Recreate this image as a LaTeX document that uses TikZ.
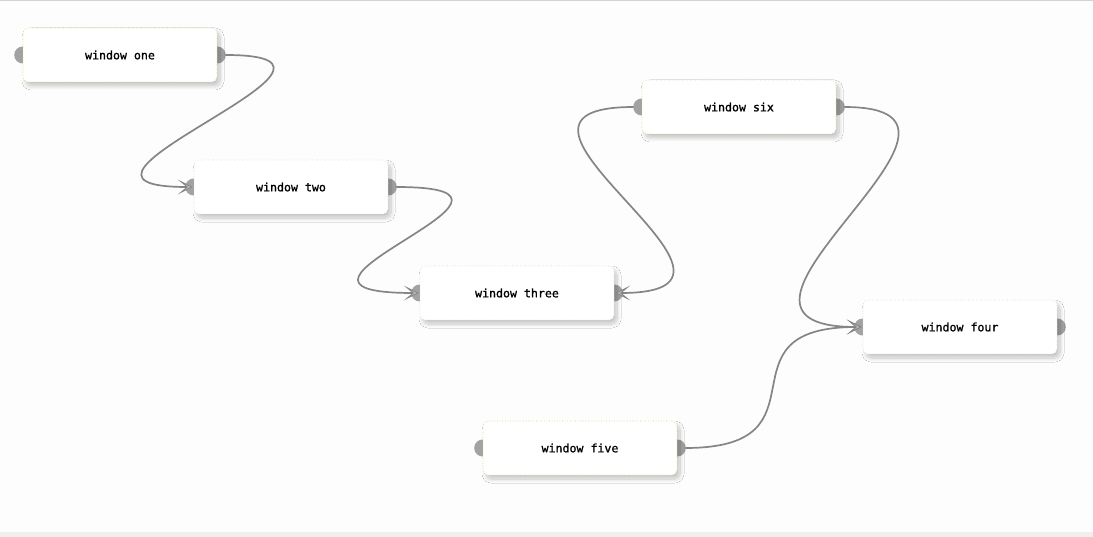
\documentclass[tikz,border=0pt]{standalone}
\usepackage{fontspec}
\newfontfamily\monof[FakeBold=1.2]{DejaVu Sans Mono}
\usetikzlibrary{arrows.meta,shadows.blur,backgrounds}
\definecolor{bgc}{HTML}{FDFDFD}
\definecolor{linec}{HTML}{858585}
\definecolor{dotc}{HTML}{A2A2A2}
\definecolor{bordA}{HTML}{CCD660}
\definecolor{bordB}{HTML}{D8D8C0}
\definecolor{topc}{HTML}{D2D2D2}
\definecolor{botc}{HTML}{EFEFEF}
\tikzset{
  win/.style={rectangle, rounded corners=5pt, minimum width=194pt, minimum height=54pt,
    inner sep=0pt, fill=white, draw=bordA, dotted, line width=0.6pt,
    blur shadow={shadow xshift=3pt, shadow yshift=-4pt, shadow blur radius=4pt,
      shadow blur steps=10, shadow opacity=22},
    font=\monof\fontsize{11.6}{14}\selectfont},
  winb/.style={win, draw=bordB},
  endp/.style={circle, fill=dotc, minimum size=17pt, inner sep=0pt},
  conn/.style={draw=linec, line width=1.7pt,
    -{Stealth[length=15pt, width=15pt, inset=9pt, fill=linec!55, line width=0.8pt]}},
}
\begin{document}
\begin{tikzpicture}[x=1pt, y=-1pt]
\useasboundingbox (0,0) rectangle (1093,537);
% nodes
\node[win]  (one)   at (120,55)  {window one};
\node[winb] (two)   at (291,187) {window two};
\node[winb] (three) at (517,293) {window three};
\node[win]  (six)   at (739,107) {window six};
\node[winb] (four)  at (960,327) {window four};
\node[win]  (five)  at (580,448) {window five};
\begin{scope}[on background layer]
  \fill[bgc] (0,0) rectangle (1093,537);
  \fill[topc] (0,0) rectangle (1093,1.5);
  \fill[botc] (0,532) rectangle (1093,537);
  \foreach \n in {one,two,three,six,four,five}{
    \node[endp] (\n-wp) at (\n.west) {};
    \node[endp] (\n-ep) at (\n.east) {};
  }
\end{scope}
% connector ends
\coordinate (oneR)   at ([xshift=8pt]one.east);
\coordinate (twoL)   at ([xshift=-1pt]two.west);
\coordinate (twoR)   at ([xshift=8pt]two.east);
\coordinate (threeL) at ([xshift=-1pt]three.west);
\coordinate (threeR) at ([xshift=1pt]three.east);
\coordinate (sixL)   at ([xshift=-8pt]six.west);
\coordinate (sixR)   at ([xshift=8pt]six.east);
\coordinate (fourL)  at ([xshift=-1pt]four.west);
\coordinate (fiveR)  at ([xshift=8pt]five.east);
% connectors
\draw[conn] (oneR) .. controls +(180,0) and +(-180,0) .. (twoL);
\draw[conn] (twoR) .. controls +(185,0) and +(-190,0) .. (threeL);
\draw[conn] (sixL) .. controls +(-185,0) and +(185,0) .. (threeR);
\draw[conn] (sixR) .. controls +(185,0) and +(-195,0) .. (fourL);
\draw[conn] (fiveR) .. controls +(150,0) and +(-150,0) .. (fourL);
\end{tikzpicture}
\end{document}
